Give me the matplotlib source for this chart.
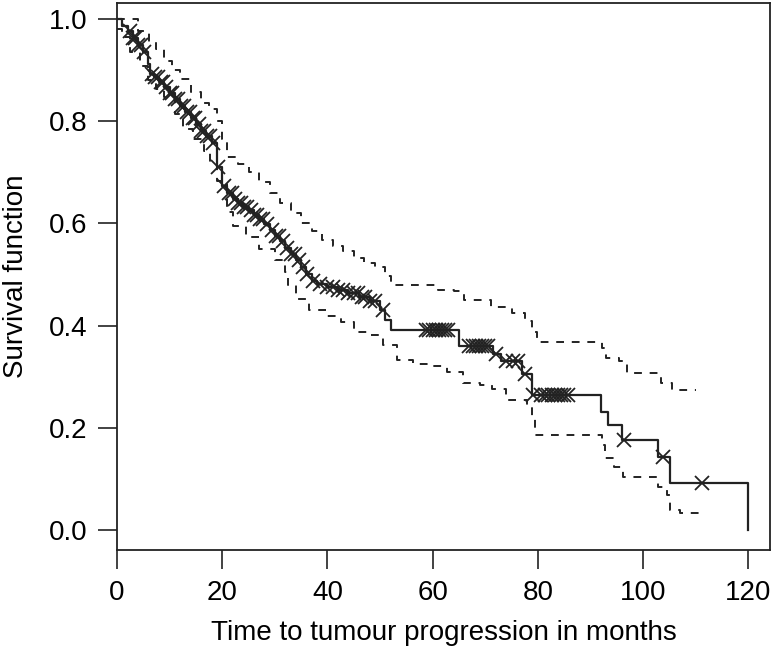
import numpy as np
import matplotlib.pyplot as plt

plt.rc("font", family=["Liberation Sans", "DejaVu Sans"], size=20)

# Kaplan-Meier estimate (step function, values after each step)
surv_time = [0, 1, 2, 3, 4, 5, 5.8, 6.3, 7, 8, 9, 10, 11, 12, 13, 14, 15, 16, 17, 18,
             19, 20, 21, 22, 23, 24, 25, 26, 27, 28, 29, 30, 31, 32, 33, 34, 35, 36,
             37, 38, 40, 42, 44, 46, 48, 50, 51, 52, 65, 71.5, 73, 77, 78.8, 92,
             93.4, 96, 102.9, 105.2, 120]
surv = [1.0, 0.985, 0.975, 0.962, 0.948, 0.935, 0.912, 0.892, 0.885, 0.876, 0.866,
        0.855, 0.843, 0.83, 0.818, 0.805, 0.793, 0.781, 0.77, 0.757, 0.71, 0.672,
        0.66, 0.648, 0.64, 0.632, 0.625, 0.616, 0.608, 0.598, 0.587, 0.575, 0.565,
        0.552, 0.54, 0.528, 0.515, 0.5, 0.487, 0.482, 0.476, 0.47, 0.463, 0.455,
        0.447, 0.43, 0.41, 0.392, 0.36, 0.345, 0.33, 0.305, 0.265, 0.231, 0.206,
        0.176, 0.143, 0.092, 0.0]

# upper / lower confidence limits
upper_time = [0, 2.5, 4, 6, 7.5, 9, 10.5, 12, 14, 16, 17.5, 19, 20, 21, 23, 25, 27,
              29, 31, 33, 35, 37, 39, 41, 43, 45, 47, 49, 51, 52, 56, 61, 64, 66, 71,
              75, 77.5, 78.8, 79.8, 92.2, 93, 95.5, 97, 103.5, 105.5, 110]
upper = [1.0, 1.0, 0.975, 0.955, 0.94, 0.918, 0.9, 0.882, 0.857, 0.835, 0.823, 0.80,
         0.765, 0.73, 0.715, 0.70, 0.68, 0.66, 0.64, 0.62, 0.60, 0.585, 0.568, 0.555,
         0.545, 0.532, 0.522, 0.515, 0.497, 0.48, 0.48, 0.47, 0.467, 0.45, 0.437,
         0.425, 0.408, 0.388, 0.367, 0.357, 0.337, 0.33, 0.308, 0.288, 0.273, 0.273]
lower_time = [0, 1, 2.5, 4.4, 5.9, 7.5, 9, 11, 12.6, 14.5, 16.5, 17.7, 19, 20.9, 22,
              24.5, 27, 30, 32, 32.5, 34, 36.5, 40, 42.5, 45, 47.5, 50.5, 53.3, 56.3,
              60, 62.8, 65.8, 69, 71.3, 74, 77.9, 78.9, 79.5, 92.2, 92.8, 94.4, 96.2,
              102.9, 104.6, 105.2, 107, 111.3]
lower = [0.98, 0.965, 0.935, 0.908, 0.879, 0.862, 0.847, 0.814, 0.784, 0.765, 0.742,
         0.72, 0.683, 0.621, 0.594, 0.573, 0.549, 0.529, 0.504, 0.48, 0.451, 0.431,
         0.418, 0.406, 0.388, 0.382, 0.362, 0.333, 0.324, 0.32, 0.31, 0.288, 0.284,
         0.275, 0.255, 0.239, 0.22, 0.186, 0.167, 0.141, 0.124, 0.104, 0.084, 0.069,
         0.039, 0.033, 0.033]

# censoring times
censor_time = [2.5, 3, 3.5, 4, 4.5, 5.2, 6.6, 7.2, 7.7, 8.3, 8.8, 9.4, 10, 10.5, 11.1,
               11.6, 12.2, 12.7, 13.3, 13.8, 14.4, 14.9, 15.5, 16, 16.6, 17.1, 17.7,
               18.2, 19.2, 20.3, 21.2, 21.8, 22.4, 23, 23.6, 24.2, 24.8, 25.4, 26,
               26.6, 27.2, 27.8, 28.6, 29.4, 30.2, 30.8, 31.6, 32.3, 33, 33.8, 34.6,
               35.4, 36.2, 37.2, 38.5, 40, 41, 42, 43, 44, 45, 45.8, 46.5, 47.2, 48,
               49, 50.5, 58.8, 59.4, 60, 60.6, 61.2, 61.8, 62.4, 63, 67, 67.6, 68.2,
               68.8, 69.4, 70, 70.6, 72, 74, 75.2, 76.2, 77.6, 79, 80.6, 81.4, 82,
               82.6, 83.2, 83.8, 84.4, 85, 85.8, 96.3, 103.8, 111.3]

xticks = [0, 20, 40, 60, 80, 100, 120]
yticks = [0.0, 0.2, 0.4, 0.6, 0.8, 1.0]

fig = plt.figure(figsize=(7.75, 6.51), dpi=100)
ax = fig.add_axes([0.151, 0.155, 0.843, 0.84])

line_col = "#222222"
ax.step(surv_time, surv, where="post", color=line_col, lw=1.6)
ax.step(upper_time, upper, where="post", color=line_col, lw=1.4, ls=(0, (4, 4)))
ax.step(lower_time, lower, where="post", color=line_col, lw=1.4, ls=(0, (4, 4)))

# censor marks sit on the survival curve
idx = np.searchsorted(surv_time, censor_time, side="right") - 1
censor_surv = np.asarray(surv)[idx]
ax.plot(censor_time, censor_surv, ls="none", marker="x", ms=10, mew=1.3, color=line_col)

ax.set_xlim(0, 124.2)
ax.set_ylim(-0.039, 1.03)
ax.set_xticks(xticks)
ax.set_xticklabels([str(v) for v in xticks])
ax.set_yticks(yticks)
ax.set_yticklabels(["%.1f" % v for v in yticks])
ax.tick_params(axis="both", direction="out", length=13.5, width=1.2, pad=8,
               color=line_col)
for sp in ax.spines.values():
    sp.set_linewidth(1.3)
    sp.set_color(line_col)

ax.set_xlabel("Time to tumour progression in months", labelpad=10)
ax.set_ylabel("Survival function", labelpad=14)

plt.savefig("out.png", dpi=100)
